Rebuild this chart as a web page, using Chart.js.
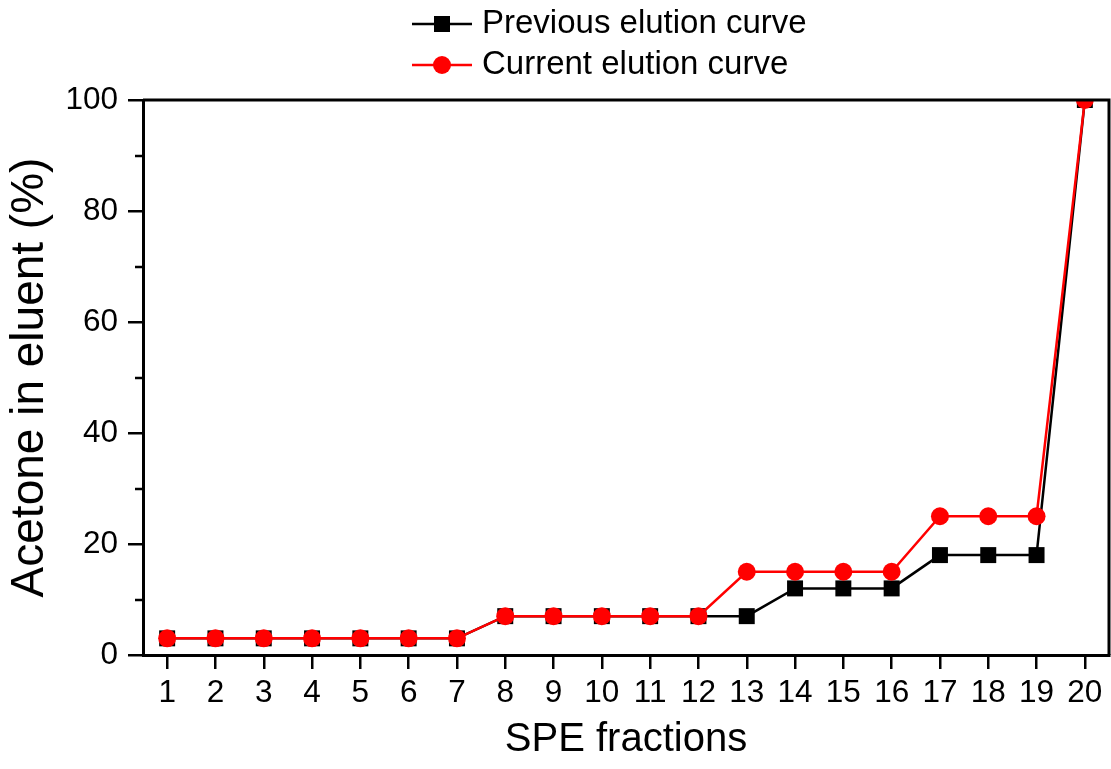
<!DOCTYPE html>
<html lang="en">
<head>
    <meta charset="UTF-8">
    <title>Elution curves</title>
    <script src="https://cdn.jsdelivr.net/npm/chart.js"></script>
    <style>
        html, body { margin: 0; padding: 0; background: #fff; }
        #wrap { width: 1111px; height: 769px; }
    </style>
</head>
<body>
    <div id="wrap"><canvas id="elutionChart" width="1111" height="769"></canvas></div>

    <script>
        const fractions = ['1','2','3','4','5','6','7','8','9','10','11','12','13','14','15','16','17','18','19','20'];
        const previousCurve = [3, 3, 3, 3, 3, 3, 3, 7, 7, 7, 7, 7, 7, 12, 12, 12, 18, 18, 18, 100];
        const currentCurve  = [3, 3, 3, 3, 3, 3, 3, 7, 7, 7, 7, 7, 15, 15, 15, 15, 25, 25, 25, 100];
        const yMajorTicks = [0, 20, 40, 60, 80, 100];
        const yMinorTicks = [10, 30, 50, 70, 90];

        const FONT = "'Liberation Sans', Arial, sans-serif";

        // frame on top/right, minor ticks on y, and the legend drawn like Origin does it
        const framePlugin = {
            id: 'frame',
            afterDraw(chart) {
                const ctx = chart.ctx;
                const a = chart.chartArea;
                const y = chart.scales.y;
                ctx.save();
                ctx.strokeStyle = '#000';
                ctx.lineWidth = 3;
                ctx.beginPath();
                ctx.moveTo(a.left, a.top);
                ctx.lineTo(a.right, a.top);
                ctx.lineTo(a.right, a.bottom);
                ctx.stroke();

                ctx.lineWidth = 2.5;
                yMinorTicks.forEach(v => {
                    const py = Math.round(y.getPixelForValue(v));
                    ctx.beginPath();
                    ctx.moveTo(a.left - 8, py);
                    ctx.lineTo(a.left, py);
                    ctx.stroke();
                });

                // legend
                const rows = [
                    { ds: chart.data.datasets[1], y: 24 },
                    { ds: chart.data.datasets[0], y: 65 }
                ];
                rows.forEach(r => {
                    ctx.strokeStyle = r.ds.borderColor;
                    ctx.fillStyle = r.ds.backgroundColor;
                    ctx.lineWidth = 2.5;
                    ctx.beginPath();
                    ctx.moveTo(412, r.y);
                    ctx.lineTo(472, r.y);
                    ctx.stroke();
                    if (r.ds.pointStyle === 'rect') {
                        ctx.fillRect(434, r.y - 8, 16, 16);
                    } else {
                        ctx.beginPath();
                        ctx.arc(442, r.y, 9, 0, Math.PI * 2);
                        ctx.fill();
                    }
                    ctx.fillStyle = '#000';
                    ctx.font = '33px ' + FONT;
                    ctx.textBaseline = 'middle';
                    ctx.textAlign = 'left';
                    ctx.fillText(r.ds.label, 482, r.y);
                });
                ctx.restore();
            }
        };

        const ctx = document.getElementById('elutionChart').getContext('2d');
        const elutionChart = new Chart(ctx, {
            type: 'line',
            data: {
                labels: fractions,
                datasets: [{
                    label: 'Current elution curve',
                    data: currentCurve,
                    borderColor: '#ff0000',
                    backgroundColor: '#ff0000',
                    borderWidth: 2.5,
                    pointStyle: 'circle',
                    pointRadius: 9,
                    pointHoverRadius: 9,
                    pointBorderWidth: 0,
                    tension: 0,
                    clip: 0,
                    order: 0
                }, {
                    label: 'Previous elution curve',
                    data: previousCurve,
                    borderColor: '#000000',
                    backgroundColor: '#000000',
                    borderWidth: 2.5,
                    pointStyle: 'rect',
                    pointRadius: 11.3,
                    pointHoverRadius: 11.3,
                    pointBorderWidth: 0,
                    tension: 0,
                    clip: 0,
                    order: 1
                }]
            },
            options: {
                responsive: false,
                animation: false,
                layout: { autoPadding: false, padding: { top: 100, right: 2, left: 0, bottom: 0 } },
                plugins: {
                    legend: { display: false },
                    tooltip: { enabled: false }
                },
                scales: {
                    x: {
                        type: 'category',
                        offset: true,
                        border: { display: true, color: '#000', width: 3 },
                        grid: { drawOnChartArea: false, drawTicks: true, tickLength: 14, color: '#000', lineWidth: 2.5, offset: false },
                        ticks: { color: '#000', font: { family: FONT, size: 31.5 }, padding: 5, maxRotation: 0, autoSkip: false },
                        title: { display: true, text: 'SPE fractions', color: '#000', font: { family: FONT, size: 40 }, padding: { top: 0, bottom: 5 } },
                        afterFit(scale) {
                            scale.height = 114;
                            scale.paddingLeft = 0;
                            scale.paddingRight = 0;
                        }
                    },
                    y: {
                        min: 0,
                        max: 100,
                        border: { display: true, color: '#000', width: 3 },
                        grid: { drawOnChartArea: false, drawTicks: true, tickLength: 15, color: '#000', lineWidth: 2.5 },
                        ticks: {
                            color: '#000',
                            font: { family: FONT, size: 31.5 },
                            padding: 10,
                            stepSize: 20,
                            callback: (v) => yMajorTicks.includes(v) ? String(v) : ''
                        },
                        title: { display: true, text: 'Acetone in eluent (%)', color: '#000', font: { family: FONT, size: 46 }, padding: { top: 3, bottom: 0 } },
                        afterFit(scale) {
                            scale.width = 143;
                            scale.paddingTop = 0;
                            scale.paddingBottom = 0;
                        }
                    }
                }
            },
            plugins: [framePlugin]
        });
    </script>
</body>
</html>
